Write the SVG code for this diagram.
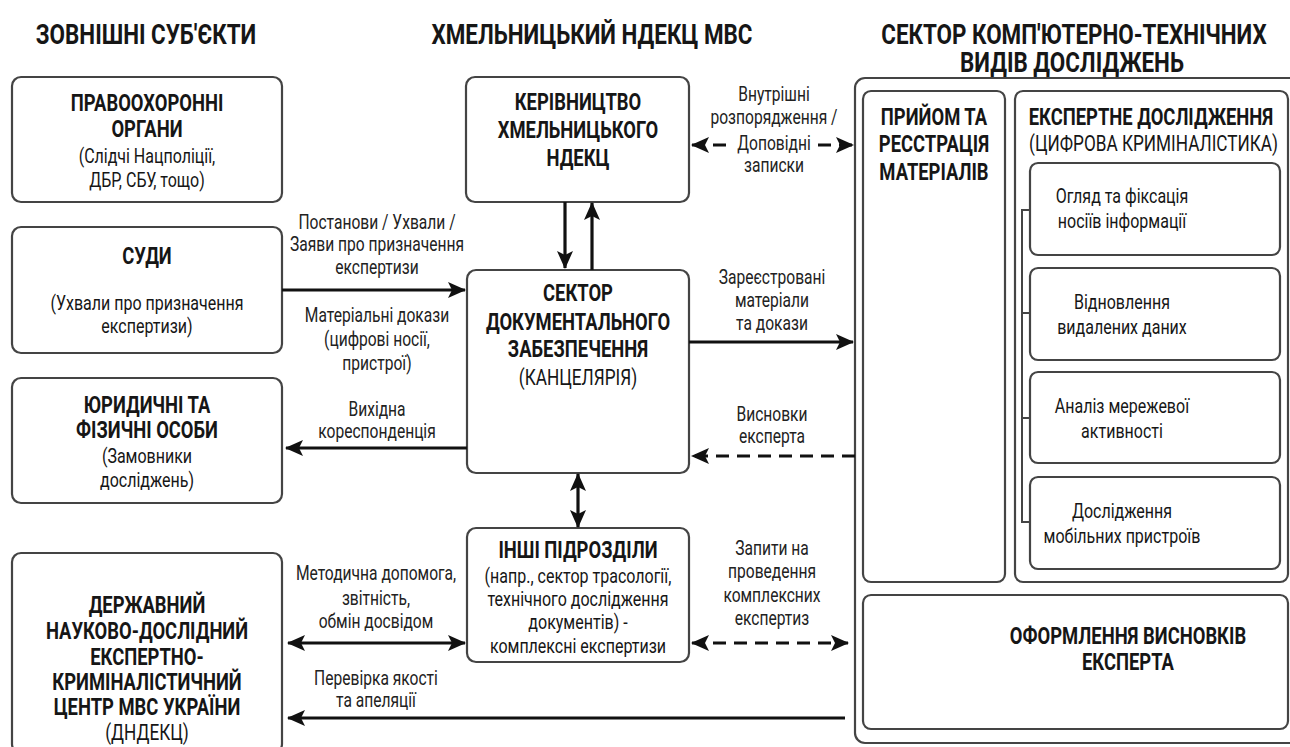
<svg xmlns="http://www.w3.org/2000/svg" width="1290" height="747" viewBox="0 0 1290 747">
<defs>
<style>
text{font-family:Roboto,"Liberation Sans",sans-serif;fill:#161616;text-anchor:middle}
.h{font-size:28px;font-weight:bold}
.t{font-size:23px;font-weight:bold}
.s{font-size:20px}
.su{font-size:21.5px}
.l{font-size:19.5px;fill:#222}
.box{fill:#fff;stroke:#444;stroke-width:2.2}
.c{fill:none;stroke:#111;stroke-width:3.2}
.d{stroke-dasharray:13 8}
</style>
<marker id="ah" markerUnits="userSpaceOnUse" markerWidth="18" markerHeight="16" viewBox="0 0 18 16" refX="17" refY="8" orient="auto-start-reverse">
<path d="M0,0 L18,8 L0,16 L4,8 z" fill="#111"/>
</marker>
</defs>
<rect width="1290" height="747" fill="#fff"/>

<g id="ctsector">
<rect class="box" x="855" y="78" width="460" height="665" rx="10"/>
</g>

<g id="law">
<rect class="box" x="12" y="77" width="270" height="125" rx="9"/>
</g>
<g id="courts">
<rect class="box" x="12" y="227" width="270" height="126" rx="9"/>
</g>
<g id="persons">
<rect class="box" x="12" y="378" width="270" height="125" rx="9"/>
</g>
<g id="dndekc">
<rect class="box" x="12" y="553" width="270" height="200" rx="9"/>
</g>
<g id="management">
<rect class="box" x="466" y="77" width="223" height="125" rx="9"/>
</g>
<g id="docsector">
<rect class="box" x="467" y="270" width="222" height="203" rx="9"/>
</g>
<g id="others">
<rect class="box" x="467" y="528" width="222" height="134" rx="9"/>
</g>
<g id="reception">
<rect class="box" x="863" y="91" width="142" height="491" rx="8"/>
</g>
<g id="research">
<rect class="box" x="1015" y="91" width="273" height="491" rx="8"/>
<path d="M1030,210 H1022 V522 H1030 M1022,313 H1030 M1022,418 H1030" fill="none" stroke="#444" stroke-width="2"/>
</g>
<g id="r1"><rect class="box" x="1030" y="163" width="250" height="92" rx="8"/></g>
<g id="r2"><rect class="box" x="1030" y="268" width="250" height="92" rx="8"/></g>
<g id="r3"><rect class="box" x="1030" y="372" width="250" height="91" rx="8"/></g>
<g id="r4"><rect class="box" x="1030" y="477" width="250" height="92" rx="8"/></g>
<g id="conclusion">
<rect class="box" x="863" y="595" width="425" height="134" rx="8"/>
</g>

<g id="connectors">
<line class="c" x1="565" y1="202" x2="565" y2="268" marker-end="url(#ah)"/>
<line class="c" x1="592" y1="270" x2="592" y2="203" marker-end="url(#ah)"/>
<line class="c" x1="282" y1="290" x2="465" y2="290" marker-end="url(#ah)"/>
<line class="c" x1="467" y1="448" x2="286" y2="448" marker-end="url(#ah)"/>
<line class="c" x1="689" y1="342" x2="853" y2="342" marker-end="url(#ah)"/>
<line class="c d" x1="855" y1="456" x2="692" y2="456" marker-end="url(#ah)"/>
<line class="c d" x1="692" y1="145" x2="853" y2="145" marker-start="url(#ah)" marker-end="url(#ah)"/>
<line class="c" x1="578" y1="474" x2="578" y2="527" marker-start="url(#ah)" marker-end="url(#ah)"/>
<line class="c" x1="288" y1="643" x2="465" y2="643" marker-start="url(#ah)" marker-end="url(#ah)"/>
<line class="c d" x1="692" y1="643" x2="848" y2="643" marker-start="url(#ah)" marker-end="url(#ah)"/>
<line class="c" x1="845" y1="718" x2="288" y2="718" marker-end="url(#ah)"/>
<rect x="734" y="135" width="80" height="20" fill="#fff"/>
</g>

<g id="texts" transform="scale(0.8 1)">
<text class="h" x="182.5" y="44">ЗОВНІШНІ СУБ'ЄКТИ</text>
<text class="h" x="740" y="44">ХМЕЛЬНИЦЬКИЙ НДЕКЦ МВС</text>
<text class="h" x="1342.5" y="44">СЕКТОР КОМП'ЮТЕРНО-ТЕХНІЧНИХ</text>
<text class="h" x="1340" y="72">ВИДІВ ДОСЛІДЖЕНЬ</text>

<text class="t" x="183.75" y="111">ПРАВООХОРОННІ</text>
<text class="t" x="183.75" y="137">ОРГАНИ</text>
<text class="s" x="183.75" y="163">(Слідчі Нацполіції,</text>
<text class="s" x="183.75" y="187">ДБР, СБУ, тощо)</text>

<text class="t" x="183.75" y="264">СУДИ</text>
<text class="s" x="183.75" y="310">(Ухвали про призначення</text>
<text class="s" x="183.75" y="333">експертизи)</text>

<text class="t" x="183.75" y="413">ЮРИДИЧНІ ТА</text>
<text class="t" x="183.75" y="438">ФІЗИЧНІ ОСОБИ</text>
<text class="s" x="183.75" y="463">(Замовники</text>
<text class="s" x="183.75" y="487">досліджень)</text>

<text class="t" x="183.75" y="613">ДЕРЖАВНИЙ</text>
<text class="t" x="183.75" y="639">НАУКОВО-ДОСЛІДНИЙ</text>
<text class="t" x="183.75" y="665">ЕКСПЕРТНО-</text>
<text class="t" x="183.75" y="690">КРИМІНАЛІСТИЧНИЙ</text>
<text class="t" x="183.75" y="715">ЦЕНТР МВС УКРАЇНИ</text>
<text class="su" x="183.75" y="740">(ДНДЕКЦ)</text>

<text class="t" x="722.5" y="110">КЕРІВНИЦТВО</text>
<text class="t" x="722.5" y="138">ХМЕЛЬНИЦЬКОГО</text>
<text class="t" x="722.5" y="166">НДЕКЦ</text>

<text class="t" x="722.5" y="301">СЕКТОР</text>
<text class="t" x="722.5" y="330">ДОКУМЕНТАЛЬНОГО</text>
<text class="t" x="722.5" y="357">ЗАБЕЗПЕЧЕННЯ</text>
<text class="su" x="722.5" y="385">(КАНЦЕЛЯРІЯ)</text>

<text class="t" x="722.5" y="558">ІНШІ ПІДРОЗДІЛИ</text>
<text class="s" x="722.5" y="583">(напр., сектор трасології,</text>
<text class="s" x="722.5" y="606">технічного дослідження</text>
<text class="s" x="722.5" y="629">документів) -</text>
<text class="s" x="722.5" y="653">комплексні експертизи</text>

<text class="t" x="1167.5" y="125">ПРИЙОМ ТА</text>
<text class="t" x="1167.5" y="152">РЕССТРАЦІЯ</text>
<text class="t" x="1167.5" y="180">МАТЕРІАЛІВ</text>

<text class="t" x="1438.75" y="125">ЕКСПЕРТНЕ ДОСЛІДЖЕННЯ</text>
<text class="su" x="1442" y="151">(ЦИФРОВА КРИМІНАЛІСТИКА)</text>

<text class="s" x="1402.5" y="203">Огляд та фіксація</text>
<text class="s" x="1402.5" y="228">носіїв інформації</text>
<text class="s" x="1402.5" y="309">Відновлення</text>
<text class="s" x="1402.5" y="334">видалених даних</text>
<text class="s" x="1402.5" y="413">Аналіз мережевої</text>
<text class="s" x="1402.5" y="438">активності</text>
<text class="s" x="1402.5" y="518">Дослідження</text>
<text class="s" x="1402.5" y="543">мобільних пристроїв</text>

<text class="t" x="1410" y="644">ОФОРМЛЕННЯ ВИСНОВКІВ</text>
<text class="t" x="1410" y="670">ЕКСПЕРТА</text>

<text class="l" x="967.5" y="101">Внутрішні</text>
<text class="l" x="967.5" y="124">розпорядження /</text>
<text class="l" x="967.5" y="150">Доповідні</text>
<text class="l" x="967.5" y="172">записки</text>

<text class="l" x="471.25" y="229">Постанови / Ухвали /</text>
<text class="l" x="471.25" y="251">Заяви про призначення</text>
<text class="l" x="471.25" y="274">експертизи</text>
<text class="l" x="471.25" y="322">Матеріальні докази</text>
<text class="l" x="471.25" y="346">(цифрові носії,</text>
<text class="l" x="471.25" y="370">пристрої)</text>
<text class="l" x="471.25" y="416">Вихідна</text>
<text class="l" x="471.25" y="438">кореспонденція</text>

<text class="l" x="965" y="284">Зареєстровані</text>
<text class="l" x="965" y="307">матеріали</text>
<text class="l" x="965" y="330">та докази</text>
<text class="l" x="965" y="421">Висновки</text>
<text class="l" x="965" y="443">експерта</text>

<text class="l" x="965" y="555">Запити на</text>
<text class="l" x="965" y="578">проведення</text>
<text class="l" x="965" y="602">комплексних</text>
<text class="l" x="965" y="625">експертиз</text>

<text class="l" x="470" y="580">Методична допомога,</text>
<text class="l" x="470" y="605">звітність,</text>
<text class="l" x="470" y="628">обмін досвідом</text>
<text class="l" x="470" y="685">Перевірка якості</text>
<text class="l" x="470" y="707">та апеляції</text>
</g>
</svg>
